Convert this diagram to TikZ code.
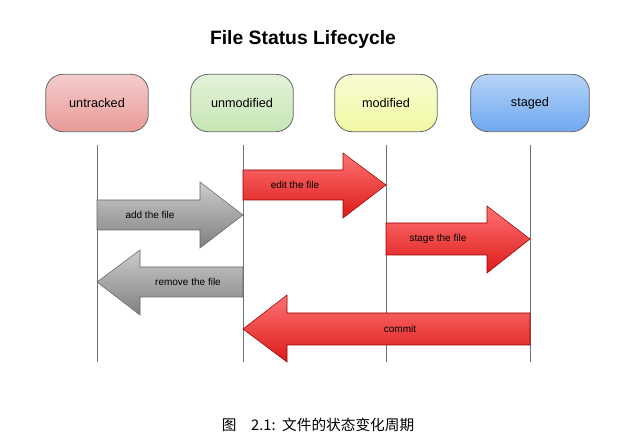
\documentclass[tikz,border=0pt]{standalone}
\usepackage{fontspec}
\setmainfont{Liberation Sans}
\newfontfamily\cjk{Noto Sans CJK SC}
\begin{document}
\begin{tikzpicture}[x=0.75pt,y=-0.75pt,
  state/.style={draw=black!60,rounded corners=13pt,minimum width=77pt,minimum height=43pt,font=\fontsize{9.5}{11}\selectfont,line width=0.6pt},
  lane/.style={draw=black!55,line width=0.6pt},
  lbl/.style={font=\fontsize{7.5}{9}\selectfont},
  redarrow/.style={draw=red!60!black,line width=0.4pt,top color=red!55!white,bottom color=red!85!black!90},
  grayarrow/.style={draw=black!60,line width=0.4pt,top color=black!20,bottom color=black!50}]
\useasboundingbox (0,0) rectangle (638,448);
\node[font=\bfseries\fontsize{14.5}{16}\selectfont] (title) at (303,40) {File Status Lifecycle};
\definecolor{cu}{HTML}{E89A98}\definecolor{cm}{HTML}{C6E6B4}\definecolor{cy}{HTML}{F2F8A4}\definecolor{cs}{HTML}{6EA8F0}
\node[state,top color=cu!50!white,bottom color=cu] (untracked) at (97,103) {untracked};
\node[state,top color=cm!50!white,bottom color=cm] (unmodified) at (242,103) {unmodified};
\node[state,top color=cy!50!white,bottom color=cy] (modified) at (386,103) {modified};
\node[state,top color=cs!50!white,bottom color=cs,minimum width=89pt] (staged) at (530,103) {staged};
\foreach \x in {97,243,386,530} \draw[lane] (\x,145) -- (\x,362);
% add the file
\draw[grayarrow] (97,200) -- (200,200) -- (200,182) -- (243,215) -- (200,248) -- (200,230) -- (97,230) -- cycle;
\node[lbl] (add) at (150,215) {add the file};
% edit the file
\draw[redarrow] (243,170) -- (343,170) -- (343,153) -- (386,185) -- (343,218) -- (343,200) -- (243,200) -- cycle;
\node[lbl] (edit) at (295,185) {edit the file};
% stage the file
\draw[redarrow] (386,223) -- (487,223) -- (487,206) -- (530,239) -- (487,273) -- (487,255) -- (386,255) -- cycle;
\node[lbl] (stage) at (438,239) {stage the file};
% remove the file
\draw[grayarrow] (243,267) -- (140,267) -- (140,250) -- (97,282) -- (140,315) -- (140,297) -- (243,297) -- cycle;
\node[lbl] (remove) at (188,282) {remove the file};
% commit
\draw[redarrow] (530,313) -- (287,313) -- (287,295) -- (243,329) -- (287,362) -- (287,345) -- (530,345) -- cycle;
\node[lbl] (commit) at (400,329) {commit};
\node[font=\cjk\fontsize{11}{13}\selectfont] (cap) at (318,425) {图\quad 2.1:\ \ 文件的状态变化周期};
\end{tikzpicture}
\end{document}
